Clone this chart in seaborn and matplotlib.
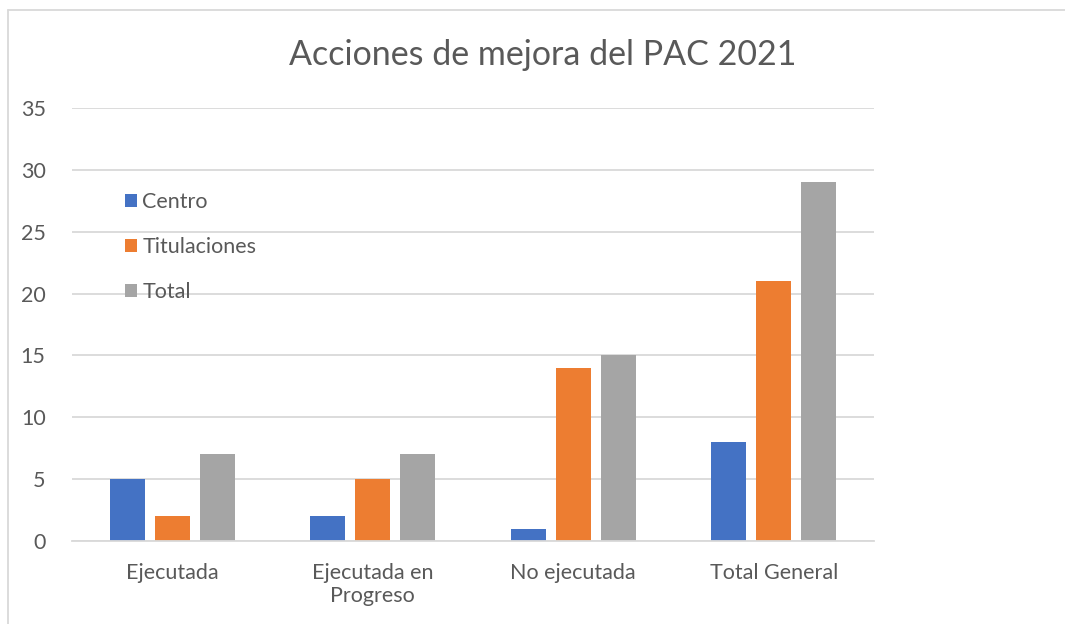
import pandas as pd
import matplotlib
matplotlib.use('Agg')
import matplotlib.pyplot as plt
import seaborn as sns
from matplotlib.lines import Line2D

categorias = ['Ejecutada', 'Ejecutada en\nProgreso', 'No ejecutada', 'Total General']
centro = [5, 2, 1, 8]
titulaciones = [2, 5, 14, 21]
total = [7, 7, 15, 29]
series = ['Centro', 'Titulaciones', 'Total']
colores = ['#4472C4', '#ED7D31', '#A5A5A5']

df = pd.DataFrame({
    'categoria': categorias * 3,
    'serie': [s for s in series for _ in categorias],
    'valor': centro + titulaciones + total,
})

sns.set_style('white')
plt.rcParams['font.family'] = ['Lato', 'DejaVu Sans']
gris = '#595959'

fig = plt.figure(figsize=(10.65, 6.24), dpi=100)
ax = fig.add_axes([72 / 1065, 1 - 541 / 624, 802 / 1065, 433 / 624])

sns.barplot(data=df, x='categoria', y='valor', hue='serie', palette=colores,
            width=0.675, gap=0.22, saturation=1, ax=ax, edgecolor='none')

ax.set_ylim(0, 35)
ax.set_yticks(range(0, 36, 5))
ax.set_xlim(-0.5, 3.5)
ax.yaxis.grid(True, color='#D9D9D9', linewidth=1.3)
ax.set_axisbelow(True)
for s in ['top', 'right', 'left']:
    ax.spines[s].set_visible(False)
ax.spines['bottom'].set_color('#D9D9D9')
ax.spines['bottom'].set_linewidth(1.3)
ax.tick_params(axis='both', length=0, labelsize=15.5, colors=gris)
ax.tick_params(axis='y', pad=19)
ax.tick_params(axis='x', pad=16)
ax.set_xlabel('')
ax.set_ylabel('')

fig.text(543 / 1065, 1 - 55 / 624, 'Acciones de mejora del PAC 2021', ha='center', va='center',
         fontsize=24.5, color=gris)

leg = ax.legend(loc='upper left', bbox_to_anchor=(0.066, 0.805), frameon=False, fontsize=15.5,
                handlelength=0.55, handleheight=0.55, handletextpad=0.25, labelspacing=1.15,
                borderpad=0, borderaxespad=0)
for t in leg.get_texts():
    t.set_color(gris)

# chart border (top and left edges visible)
fig.add_artist(Line2D([7.5 / 1065, 1.0], [1 - 9.5 / 624] * 2, transform=fig.transFigure,
                      color='#D9D9D9', linewidth=1.3))
fig.add_artist(Line2D([7.5 / 1065] * 2, [0.0, 1 - 9.5 / 624], transform=fig.transFigure,
                      color='#D9D9D9', linewidth=1.3))

fig.savefig('out.png', dpi=100)
